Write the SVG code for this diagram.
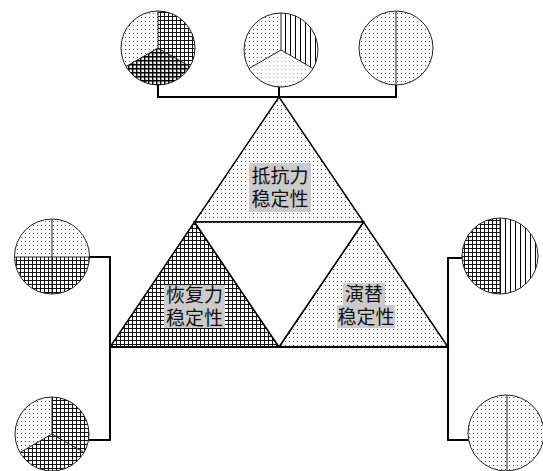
<svg xmlns="http://www.w3.org/2000/svg" width="543" height="471" viewBox="0 0 543 471">
<style>
.ol{fill:none;stroke:#222;stroke-width:1}
.tri{stroke:#000;stroke-width:1.5;stroke-linejoin:miter}
.con{fill:none;stroke:#000;stroke-width:2}
.div{stroke:#222;stroke-width:1;fill:none}
.lbl{font-family:"Noto Sans CJK SC","Noto Sans",sans-serif;font-size:19px;fill:#111;text-anchor:middle}
.bg{fill:#cbcbcb}
</style>
<defs>
<pattern id="dots" width="4" height="4" patternUnits="userSpaceOnUse"><rect width="4" height="4" fill="#fff"/><rect x="1" y="1" width="1" height="1" fill="#555"/></pattern>
<pattern id="ldots" width="4" height="4" patternUnits="userSpaceOnUse"><rect width="4" height="4" fill="#fff"/><rect x="1" y="1" width="1" height="1" fill="#aaa"/></pattern>
<pattern id="grid" width="4" height="4" patternUnits="userSpaceOnUse"><rect width="4" height="4" fill="#fff"/><path d="M0 0.5H4M0.5 0V4" stroke="#111" stroke-width="1"/></pattern>
<pattern id="dgrid" width="4" height="4" patternUnits="userSpaceOnUse"><rect width="4" height="4" fill="#eee"/><path d="M0 0.7H4M0.7 0V4" stroke="#000" stroke-width="1.4"/></pattern>
<pattern id="vl" width="5" height="5" patternUnits="userSpaceOnUse"><rect width="5" height="5" fill="#fff"/><path d="M0.5 0V5" stroke="#000" stroke-width="1"/></pattern>
</defs>
<rect width="543" height="471" fill="#fff"/>

<g id="connectors">
<path class="con" d="M158 85V97H396V85M279 87V97"/>
<path class="con" d="M89 257H110V440H89"/>
<path class="con" d="M463 258H448V440H469"/>
</g>

<g id="pyramid">
<polygon class="tri" points="279,97 194.5,222 363.5,222" fill="url(#dots)"/>
<polygon class="tri" points="194.5,222 110,347 279,347" fill="url(#grid)"/>
<polygon class="tri" points="363.5,222 279,347 448,347" fill="url(#dots)"/>
<polygon class="tri" points="194.5,222 363.5,222 279,347" fill="#fff"/>
<line x1="110" y1="347" x2="448" y2="347" stroke="#000" stroke-width="2.2"/>
</g>

<g id="label-resistance">
<rect class="bg" x="249" y="163" width="62" height="49"/>
<text class="lbl" x="280" y="183">抵抗力</text>
<text class="lbl" x="280" y="206">稳定性</text>
</g>
<g id="label-resilience">
<rect class="bg" x="164" y="285" width="61" height="43"/>
<text class="lbl" x="194.5" y="302">恢复力</text>
<text class="lbl" x="194.5" y="325">稳定性</text>
</g>
<g id="label-succession">
<rect class="bg" x="343" y="283" width="42" height="22"/>
<rect class="bg" x="337" y="305" width="58" height="23"/>
<text class="lbl" x="364" y="301">演替</text>
<text class="lbl" x="366" y="324">稳定性</text>
</g>

<g id="circle-top-left">
<path d="M158 48L158 11A37 37 0 0 0 126 66.5Z" fill="url(#dots)"/>
<path d="M158 48L158 11A37 37 0 0 1 190 66.5Z" fill="url(#grid)"/>
<path d="M158 48L126 66.5A37 37 0 0 0 190 66.5Z" fill="url(#dgrid)"/>
<path class="div" d="M158 11V48L126 66.5M158 48L190 66.5"/>
<circle class="ol" cx="158" cy="48" r="37"/>
</g>
<g id="circle-top-mid">
<path d="M281 50L281 13A37 37 0 0 0 249 68.5Z" fill="url(#dots)"/>
<path d="M281 50L281 13A37 37 0 0 1 313 68.5Z" fill="url(#vl)"/>
<path d="M281 50L249 68.5A37 37 0 0 0 313 68.5Z" fill="url(#ldots)"/>
<path class="div" d="M281 13V50L249 68.5M281 50L313 68.5"/>
<circle class="ol" cx="281" cy="50" r="37"/>
</g>
<g id="circle-top-right">
<circle cx="396" cy="48" r="37" fill="url(#dots)"/>
<path class="div" d="M396 11V85"/>
<circle class="ol" cx="396" cy="48" r="37"/>
</g>
<g id="circle-left-top">
<path d="M15 257A37 37 0 0 1 89 257Z" fill="url(#dots)"/>
<path d="M15 257A37 37 0 0 0 89 257Z" fill="url(#grid)"/>
<path class="div" d="M52 219V294M15 257H89"/>
<circle class="ol" cx="52" cy="256.5" r="37.5"/>
</g>
<g id="circle-left-bottom">
<path d="M52 434L52 397A37 37 0 0 0 20 452.5Z" fill="url(#dots)"/>
<path d="M52 434L52 397A37 37 0 0 1 84 452.5Z" fill="url(#grid)"/>
<path d="M52 434L20 452.5A37 37 0 0 0 84 452.5Z" fill="url(#grid)"/>
<path class="div" d="M52 397V434L20 452.5M52 434L84 452.5"/>
<circle class="ol" cx="52" cy="434" r="37"/>
</g>
<g id="circle-right-top">
<path d="M500 218A38 38 0 0 0 500 294Z" fill="url(#grid)"/>
<path d="M500 218A38 38 0 0 1 500 294Z" fill="url(#vl)"/>
<path class="div" d="M500 218V294"/>
<circle class="ol" cx="500" cy="256" r="38"/>
</g>
<g id="circle-right-bottom">
<circle cx="506" cy="433" r="38" fill="url(#dots)"/>
<path class="div" d="M507 395V471"/>
<circle class="ol" cx="506" cy="433" r="38"/>
</g>
</svg>
